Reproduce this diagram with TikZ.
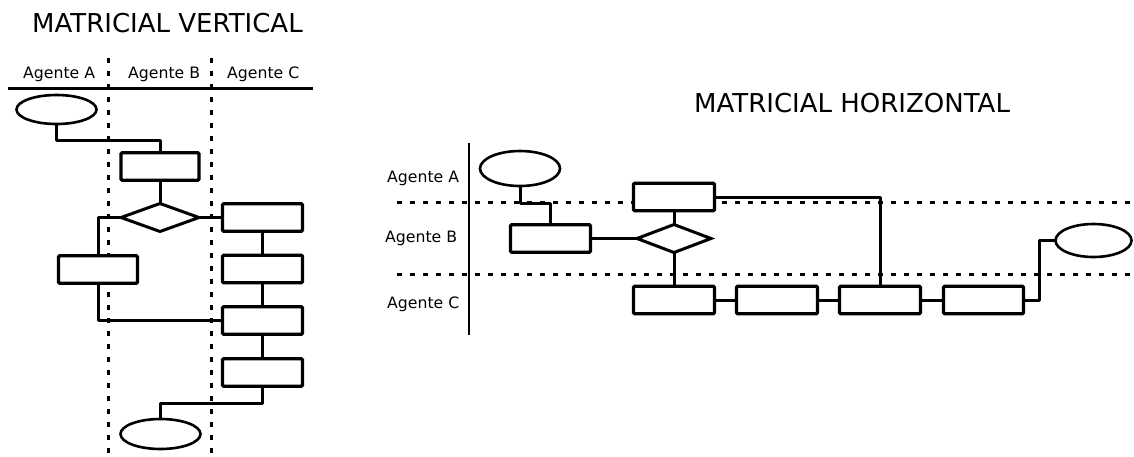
\documentclass[tikz,border=0pt]{standalone}
\usepackage{fontspec}
\setmainfont{DejaVu Sans}
\usetikzlibrary{shapes.geometric}

\tikzset{
  title/.style={anchor=base west, inner sep=0pt, font=\fontsize{26}{30}\selectfont},
  lane/.style={anchor=base west, inner sep=0pt, font=\fontsize{15.7}{18}\selectfont},
  stepbox/.style={draw, fill=white, line width=3.3pt, rectangle, rounded corners=1.2pt,
                  inner sep=0pt, outer sep=0pt, minimum width=#1, minimum height=27.5pt},
  stepbox/.default=80pt,
  choice/.style={draw, fill=white, line width=3pt, diamond, inner sep=0pt, outer sep=0pt,
                 minimum width=#1, minimum height=28pt},
  terminal/.style={draw, fill=white, line width=2.6pt, ellipse, inner sep=0pt, outer sep=0pt,
                   minimum width=80pt, minimum height=#1},
  flow/.style={line width=3pt, line join=round},
  lanesep/.style={line width=3pt, dash pattern=on 4.5pt off 8.5pt},
  rule/.style={line width=2.4pt},
}

\begin{document}
\begin{tikzpicture}[x=1pt, y=-1pt]
\useasboundingbox (0,0) rectangle (1134,456);

% ---------------- vertical swimlanes ----------------
\node[title] (tV) at (32,32) {MATRICIAL VERTICAL};
\node[lane] (lVa) at (23,78) {Agente A};
\node[lane] (lVb) at (128,78) {Agente B};
\node[lane] (lVc) at (227,78) {Agente C};

\coordinate (sepV1t) at (108,58);  \coordinate (sepV1b) at (108,456);
\coordinate (sepV2t) at (211,58);  \coordinate (sepV2b) at (211,456);
\coordinate (hdrL) at (8,88.5);    \coordinate (hdrR) at (313,88.5);
\draw[lanesep] (sepV1t) -- (sepV1b);
\draw[lanesep] (sepV2t) -- (sepV2b);
\draw[rule] (hdrL) -- (hdrR);

\node[terminal=29pt] (startV) at (56.5,109.5) {};
\node[stepbox=78pt] (vb1) at (160,166.5) {};
\node[choice=78pt] (vd) at (160,217.5) {};
\node[stepbox=79pt] (vb2) at (98,269.5) {};
\node[stepbox=80pt] (vb3) at (262.5,217.5) {};
\node[stepbox=80pt] (vb4) at (262.5,269) {};
\node[stepbox=80pt] (vb5) at (262.5,320.5) {};
\node[stepbox=80pt] (vb6) at (262.5,372.5) {};
\node[terminal=30pt] (endV) at (160.5,434) {};

\coordinate (rowV1) at (0,140);
\coordinate (rowV2) at (0,403);

\draw[flow] (startV.south) |- (rowV1 -| vb1.north) -- (vb1.north);
\draw[flow] (vb1.south) -- (vd.north);
\draw[flow] (vd.west) -| (vb2.north);
\draw[flow] (vd.east) -- (vb3.west);
\draw[flow] (vb2.south) |- (vb5.west);
\draw[flow] (vb3.south) -- (vb4.north);
\draw[flow] (vb4.south) -- (vb5.north);
\draw[flow] (vb5.south) -- (vb6.north);
\draw[flow] (vb6.south) |- (rowV2 -| endV.north) -- (endV.north);

% ---------------- horizontal swimlanes ----------------
\node[title] (tH) at (694,112) {MATRICIAL HORIZONTAL};
\node[lane] (lHa) at (387,182) {Agente A};
\node[lane] (lHb) at (385,242) {Agente B};
\node[lane] (lHc) at (387,308) {Agente C};

\coordinate (sepH1l) at (397,202);  \coordinate (sepH1r) at (1134,202);
\coordinate (sepH2l) at (397,274);  \coordinate (sepH2r) at (1134,274);
\coordinate (axT) at (469,143);     \coordinate (axB) at (469,335);
\draw[lanesep] (sepH1l) -- (sepH1r);
\draw[lanesep] (sepH2l) -- (sepH2r);
\draw[rule] (axT) -- (axB);

\node[terminal=35pt] (startH) at (520,168.5) {};
\node[stepbox=80pt] (hb1) at (550.5,238.5) {};
\node[choice=74pt] (hd) at (674,238.5) {};
\node[stepbox=81pt] (hA) at (674,197) {};
\node[stepbox=81pt] (hC1) at (674,300) {};
\node[stepbox=81pt] (hC2) at (777,300) {};
\node[stepbox=81pt] (hC3) at (880,300) {};
\node[stepbox=80pt] (hC4) at (983.5,300) {};
\node[terminal=33pt, minimum width=76pt] (endH) at (1093.5,240.5) {};

\coordinate (rowH1) at (0,203);
\coordinate (colH1) at (1039,0);

\draw[flow] (startH.south) |- (rowH1 -| hb1.north) -- (hb1.north);
\draw[flow] (hb1.east) -- (hd.west);
\draw[flow] (hA.south) -- (hd.north);
\draw[flow] (hd.south) -- (hC1.north);
\draw[flow] (hC1.east) -- (hC2.west);
\draw[flow] (hC2.east) -- (hC3.west);
\draw[flow] (hC3.east) -- (hC4.west);
\draw[flow] (hA.east) -| (hC3.north);
\draw[flow] (hC4.east) -| (colH1 |- endH.west) -- (endH.west);
\end{tikzpicture}
\end{document}
